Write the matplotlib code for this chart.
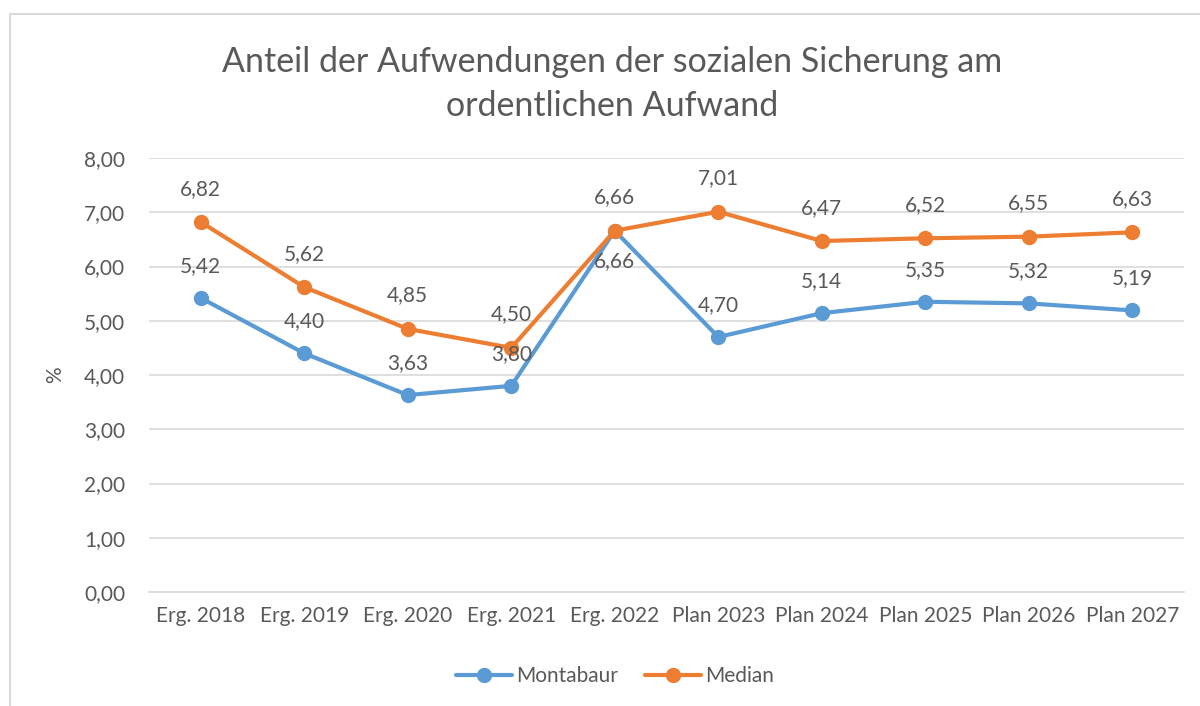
import matplotlib.pyplot as plt
from matplotlib.patches import Rectangle

categories = ['Erg. 2018', 'Erg. 2019', 'Erg. 2020', 'Erg. 2021', 'Erg. 2022',
              'Plan 2023', 'Plan 2024', 'Plan 2025', 'Plan 2026', 'Plan 2027']
montabaur = [5.42, 4.40, 3.63, 3.80, 6.66, 4.70, 5.14, 5.35, 5.32, 5.19]
median = [6.82, 5.62, 4.85, 4.50, 6.66, 7.01, 6.47, 6.52, 6.55, 6.63]
yticks = [0, 1, 2, 3, 4, 5, 6, 7, 8]

# Montabaur-Label unterhalb nur bei 2022 (sonst Überlappung mit Median)
below_montabaur = [False, False, False, False, True, False, False, False, False, False]

BLUE = '#5B9BD5'
ORANGE = '#ED7D31'
TEXT = '#595959'
GRID = '#D9D9D9'

plt.rcParams['font.family'] = ['Lato', 'DejaVu Sans']

W, H = 1200, 706
fig = plt.figure(figsize=(W / 100, H / 100), dpi=100)

# Rahmen um das Diagramm
fig.patches.append(Rectangle((10 / W, -0.1), 1.1, (H - 14) / H + 0.1,
                             transform=fig.transFigure, fill=False,
                             edgecolor=GRID, linewidth=1.5))

ax = fig.add_axes([149 / W, (H - 592) / H, (1184 - 149) / W, (592 - 158) / H])

x = list(range(len(categories)))
ax.plot(x, montabaur, color=BLUE, linewidth=3, marker='o', markersize=10,
        label='Montabaur', solid_capstyle='round', zorder=3)
ax.plot(x, median, color=ORANGE, linewidth=3, marker='o', markersize=10,
        label='Median', solid_capstyle='round', zorder=3)

def fmt(v):
    return f'{v:.2f}'.replace('.', ',')

for i, v in enumerate(montabaur):
    dy = -22 if below_montabaur[i] else 23
    ax.annotate(fmt(v), (i, v), xytext=(0, dy), textcoords='offset points',
                ha='center', va='center', fontsize=15, color=TEXT)
for i, v in enumerate(median):
    ax.annotate(fmt(v), (i, v), xytext=(0, 24), textcoords='offset points',
                ha='center', va='center', fontsize=15, color=TEXT)

ax.set_xlim(-0.5, len(categories) - 0.5)
ax.set_ylim(0, 8)
ax.set_yticks(yticks)
ax.set_yticklabels([fmt(t) for t in yticks])
ax.set_xticks(x)
ax.set_xticklabels(categories)
ax.tick_params(axis='both', length=0, labelsize=15, labelcolor=TEXT)
ax.tick_params(axis='y', pad=17)
ax.tick_params(axis='x', pad=10)
ax.grid(axis='y', color=GRID, linewidth=1.2)
ax.set_axisbelow(True)
for s in ['top', 'right', 'left']:
    ax.spines[s].set_visible(False)
ax.spines['bottom'].set_color(GRID)
ax.spines['bottom'].set_linewidth(1.2)

ax.set_ylabel('%', fontsize=15, color=TEXT, labelpad=14)

fig.text(612 / W, 1 - 84 / H,
         'Anteil der Aufwendungen der sozialen Sicherung am\nordentlichen Aufwand',
         ha='center', va='center', fontsize=24.5, color=TEXT,
         linespacing=1.45)

fig.legend(loc='center', bbox_to_anchor=(615 / W, 1 - 676 / H), ncol=2,
           frameon=False, fontsize=15, labelcolor=TEXT, handlelength=2.7,
           columnspacing=1.3, handletextpad=0.2)

fig.savefig('out.png', dpi=100, facecolor='white')
